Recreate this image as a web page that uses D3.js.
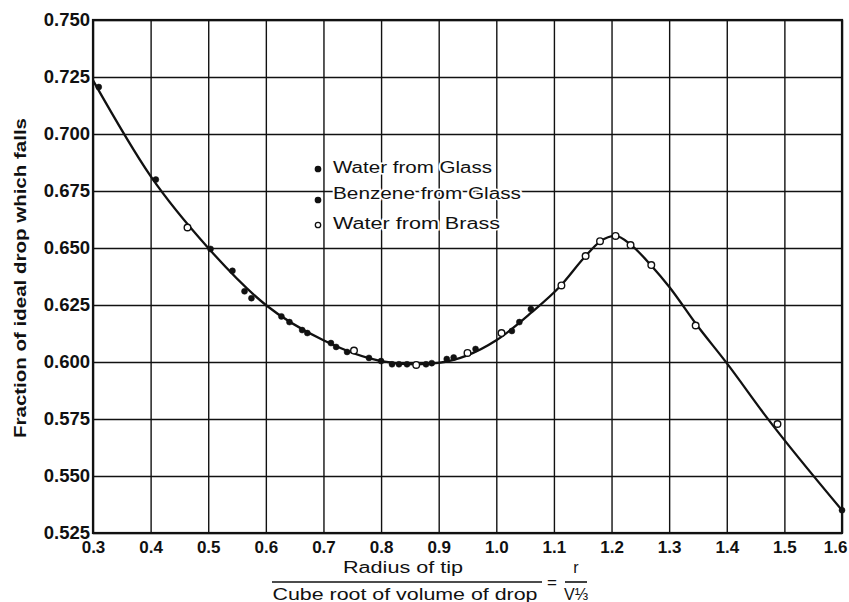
<!DOCTYPE html>
<html lang="en">
<head>
<meta charset="utf-8">
<title>Fraction of ideal drop which falls</title>
<script src="https://cdn.jsdelivr.net/npm/d3@7"></script>
<style>
  body { margin: 0; background: #fff; }
  svg { font-family: "Liberation Sans", Arial, sans-serif; }
  .tick text { font-weight: bold; fill: #111; }
  .xax .tick text { font-size: 17px; }
  .yax .tick text { font-size: 18.5px; }
  .grid line { stroke: #111; stroke-width: 1.4; }
</style>
</head>
<body>
<script>
// values
var xTicks = [0.3, 0.4, 0.5, 0.6, 0.7, 0.8, 0.9, 1.0, 1.1, 1.2, 1.3, 1.4, 1.5, 1.6];
var yTicks = [0.525, 0.550, 0.575, 0.600, 0.625, 0.650, 0.675, 0.700, 0.725, 0.750];

// smooth curve drawn by hand in the original
var curveX = [0.30, 0.40, 0.50, 0.60, 0.70, 0.80, 0.86, 0.90, 1.00, 1.06, 1.11, 1.155, 1.18, 1.207, 1.233, 1.27, 1.30, 1.348, 1.40, 1.47, 1.60];
var curveY = [0.7235, 0.6815, 0.650, 0.625, 0.6095, 0.6004, 0.599, 0.5996, 0.6095, 0.6215, 0.6330, 0.6465, 0.6528, 0.6553, 0.6515, 0.6420, 0.6330, 0.6162, 0.5995, 0.5755, 0.535];

var waterGlassX = [0.31, 0.409, 0.504, 0.563, 0.627, 0.663, 0.713, 0.741, 0.779, 0.800, 0.831, 0.878, 0.914, 0.964, 1.040, 1.600];
var waterGlassY = [0.7206, 0.680, 0.6496, 0.631, 0.620, 0.614, 0.6083, 0.6044, 0.6018, 0.6004, 0.599, 0.599, 0.6013, 0.6057, 0.6175, 0.535];

var benzeneGlassX = [0.542, 0.575, 0.641, 0.672, 0.722, 0.819, 0.845, 0.888, 0.926, 1.027, 1.060];
var benzeneGlassY = [0.640, 0.628, 0.6175, 0.6127, 0.6066, 0.599, 0.599, 0.5995, 0.602, 0.6136, 0.6232];

var waterBrassX = [0.464, 0.753, 0.861, 0.950, 1.009, 1.113, 1.155, 1.180, 1.207, 1.233, 1.269, 1.346, 1.488];
var waterBrassY = [0.659, 0.605, 0.5987, 0.604, 0.6127, 0.6336, 0.6465, 0.653, 0.6553, 0.6513, 0.6425, 0.6160, 0.5728];

var legendLabels = ["Water from Glass", "Benzene from Glass", "Water from Brass"];

var W = 849, H = 602;
var margin = {top: 20, right: 7, bottom: 69, left: 93},
    width = W - margin.left - margin.right,
    height = H - margin.top - margin.bottom;

var x = d3.scaleLinear().domain([0.3, 1.6]).range([0, width]);
var y = d3.scaleLinear().domain([0.525, 0.750]).range([height, 0]);

var svg = d3.select("body").append("svg")
    .attr("width", W)
    .attr("height", H)
  .append("g")
    .attr("transform", "translate(" + margin.left + "," + margin.top + ")");

// grid
svg.append("g")
    .attr("class", "grid")
    .call(d3.axisBottom(x).tickValues(xTicks).tickSize(height).tickFormat(""))
    .call(function(g) { g.select(".domain").remove(); });
svg.append("g")
    .attr("class", "grid")
    .call(d3.axisLeft(y).tickValues(yTicks).tickSize(-width).tickFormat(""))
    .call(function(g) { g.select(".domain").remove(); });

// frame
svg.append("rect")
    .attr("width", width).attr("height", height)
    .attr("fill", "none").attr("stroke", "#111").attr("stroke-width", 2.2);

// tick labels
svg.append("g")
    .attr("class", "xax")
    .attr("transform", "translate(0," + height + ")")
    .call(d3.axisBottom(x).tickValues(xTicks).tickSize(0).tickPadding(8).tickFormat(d3.format(".1f")))
    .call(function(g) { g.select(".domain").remove(); });
// last label sits against the page edge
svg.selectAll(".xax .tick:last-of-type text")
    .attr("text-anchor", "end").attr("x", 5);
svg.append("g")
    .attr("class", "yax")
    .call(d3.axisLeft(y).tickValues(yTicks).tickSize(0).tickPadding(3).tickFormat(d3.format(".3f")))
    .call(function(g) { g.select(".domain").remove(); });

// curve
var line = d3.line()
    .x(function(d) { return x(d[0]); })
    .y(function(d) { return y(d[1]); })
    .curve(d3.curveMonotoneX);
svg.append("path")
    .datum(d3.zip(curveX, curveY))
    .attr("d", line)
    .attr("fill", "none")
    .attr("stroke", "#111")
    .attr("stroke-width", 2.3);

function dots(xs, ys, open) {
  svg.append("g").selectAll("circle")
      .data(d3.zip(xs, ys))
    .enter().append("circle")
      .attr("cx", function(d) { return x(d[0]); })
      .attr("cy", function(d) { return y(d[1]); })
      .attr("r", open ? 3.3 : 3)
      .attr("fill", open ? "#fff" : "#111")
      .attr("stroke", "#111")
      .attr("stroke-width", open ? 1.4 : 0.5);
}
dots(waterGlassX, waterGlassY, false);
dots(benzeneGlassX, benzeneGlassY, false);
dots(waterBrassX, waterBrassY, true);

// legend (rows are not evenly spaced in the original)
var legY = [147, 173, 203], legDot = [149, 180, 205], legW = [159, 188, 167];
legendLabels.forEach(function(t, i) {
  svg.append("circle")
      .attr("cx", 225).attr("cy", legDot[i])
      .attr("r", 2.7)
      .attr("fill", i == 2 ? "#fff" : "#111")
      .attr("stroke", "#111").attr("stroke-width", 1.3);
  svg.append("text")
      .attr("x", 240).attr("y", legY[i]).attr("dy", "0.35em")
      .attr("font-size", 16)
      .attr("textLength", legW[i]).attr("lengthAdjust", "spacingAndGlyphs")
      .attr("fill", "#111")
      .attr("stroke", "#fff").attr("stroke-width", 3)
      .attr("paint-order", "stroke")
      .text(t);
});

// y title
svg.append("text")
    .attr("transform", "translate(" + (-67) + "," + 258 + ") rotate(-90)")
    .attr("text-anchor", "middle")
    .attr("font-size", 16)
    .attr("font-weight", "bold")
    .attr("textLength", 320).attr("lengthAdjust", "spacingAndGlyphs")
    .attr("fill", "#111")
    .text("Fraction of ideal drop which falls");

// x title as a fraction
var xt = svg.append("g").attr("transform", "translate(0," + height + ")");
xt.append("text")
    .attr("x", 310).attr("y", 40)
    .attr("text-anchor", "middle").attr("font-size", 16).attr("fill", "#111")
    .attr("textLength", 120).attr("lengthAdjust", "spacingAndGlyphs")
    .text("Radius of tip");
xt.append("line")
    .attr("x1", 179).attr("x2", 449).attr("y1", 49).attr("y2", 49)
    .attr("stroke", "#111").attr("stroke-width", 1.6);
xt.append("text")
    .attr("x", 312).attr("y", 67)
    .attr("text-anchor", "middle").attr("font-size", 16).attr("fill", "#111")
    .attr("textLength", 265).attr("lengthAdjust", "spacingAndGlyphs")
    .text("Cube root of volume of drop");
xt.append("text")
    .attr("x", 459).attr("y", 55)
    .attr("text-anchor", "middle").attr("font-size", 17).attr("fill", "#111")
    .text("=");
xt.append("text")
    .attr("x", 483).attr("y", 40)
    .attr("text-anchor", "middle").attr("font-size", 16).attr("fill", "#111")
    .text("r");
xt.append("line")
    .attr("x1", 472).attr("x2", 494).attr("y1", 49).attr("y2", 49)
    .attr("stroke", "#111").attr("stroke-width", 1.6);
xt.append("text")
    .attr("x", 483).attr("y", 67)
    .attr("text-anchor", "middle").attr("font-size", 16).attr("fill", "#111")
    .text("V⅓");
</script>
</body>
</html>
